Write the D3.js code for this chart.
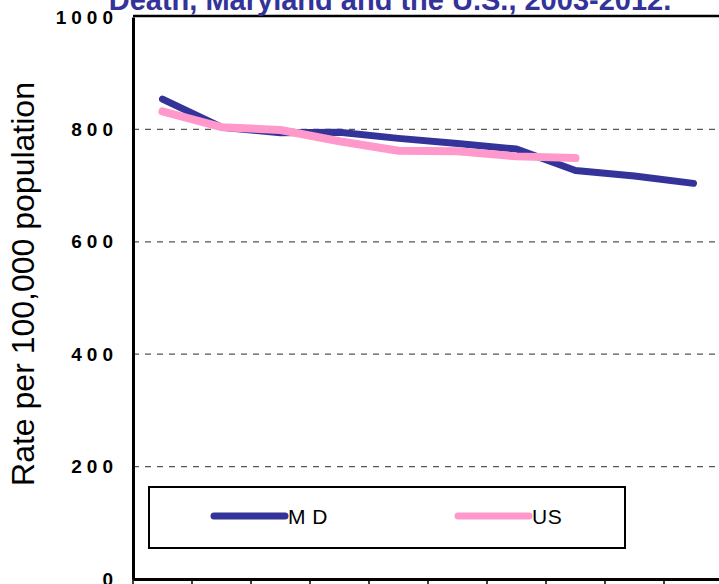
<!DOCTYPE html>
<html>
<head>
<meta charset="utf-8">
<script src="https://cdn.jsdelivr.net/npm/d3@7"></script>
<style>
  body { margin: 0; background: #fff; }
  svg { display: block; font-family: "Liberation Sans", Arial, sans-serif; }
</style>
</head>
<body>
<svg id="chart"></svg>
<script>
const years = ['2003', '2004', '2005', '2006', '2007', '2008', '2009', '2010', '2011', '2012']
const mdValues = [854, 804, 794, 795, 784, 775, 765, 727, 717, 704]
const usValues = [832, 804, 799, 779, 762, 761, 752, 749]
const yTicks = [0, 200, 400, 600, 800, 1000]

const width = 719
const height = 584
const margin = {top: 17, left: 133, bottom: 5}
const plotW = 590

const svg = d3.select('#chart').attr('width', width).attr('height', height)

const x = d3.scaleBand().domain(years).range([margin.left, margin.left + plotW])
const y = d3.scaleLinear().domain([0, 1000]).range([height - margin.bottom, margin.top])

// 网格线
svg.append('g').selectAll('line').data(yTicks.filter(d => d > 0 && d < 1000)).enter().append('line')
    .attr('x1', margin.left).attr('x2', width)
    .attr('y1', d => y(d)).attr('y2', d => y(d))
    .attr('stroke', '#555').attr('stroke-width', 1.2).attr('stroke-dasharray', '6,6')

// 顶部边框
svg.append('line')
    .attr('x1', margin.left).attr('x2', width)
    .attr('y1', y(1000) - 1).attr('y2', y(1000) - 1)
    .attr('stroke', '#000').attr('stroke-width', 2.5)

// y 轴
const ls = 5
const yAxis = svg.append('g').attr('transform', `translate(${margin.left},0)`)
    .call(d3.axisLeft(y).tickValues(yTicks).tickSize(0).tickPadding(20 - ls).tickFormat(d3.format('d')))
yAxis.select('.domain').attr('stroke', '#000').attr('stroke-width', 3)
yAxis.selectAll('text').attr('font-size', 19).attr('font-weight', 'bold')
    .attr('letter-spacing', ls).attr('fill', '#000').attr('font-family', '"Liberation Sans", Arial, sans-serif')

// x 轴
const xAxis = svg.append('g').attr('transform', `translate(0,${y(0)})`)
    .call(d3.axisBottom(x).tickSize(0).tickFormat(''))
xAxis.select('.domain').attr('stroke', '#000').attr('stroke-width', 3)
xAxis.selectAll('.tk').data(years).enter().append('line')
    .attr('x1', d => x(d)).attr('x2', d => x(d))
    .attr('y1', 0).attr('y2', 8)
    .attr('stroke', '#000').attr('stroke-width', 1.5)

// 标题
svg.append('text')
    .attr('x', 390).attr('y', 10)
    .attr('text-anchor', 'middle')
    .attr('font-size', 29).attr('font-weight', 'bold').attr('fill', '#333399')
    .text('Death, Maryland and the U.S., 2003-2012.')

// y 轴标题
svg.append('text')
    .attr('transform', `translate(34,284) rotate(-90)`)
    .attr('text-anchor', 'middle')
    .attr('font-size', 32).attr('fill', '#000')
    .text('Rate per 100,000 population')

// 折线
const line = d3.line().x((d, i) => x(years[i]) + x.bandwidth() / 2).y(d => y(d))
svg.append('path').datum(mdValues).attr('d', line)
    .attr('fill', 'none').attr('stroke', '#333399').attr('stroke-width', 7)
    .attr('stroke-linecap', 'round').attr('stroke-linejoin', 'round')
svg.append('path').datum(usValues).attr('d', line)
    .attr('fill', 'none').attr('stroke', '#ff99cc').attr('stroke-width', 8)
    .attr('stroke-linecap', 'round').attr('stroke-linejoin', 'round')

// 图例
const legend = svg.append('g')
legend.append('rect').attr('x', 149).attr('y', 487).attr('width', 476).attr('height', 61)
    .attr('fill', '#fff').attr('stroke', '#000').attr('stroke-width', 2)
const items = [{name: 'M D', color: '#333399', x: 214, w: 7}, {name: 'US', color: '#ff99cc', x: 458, w: 7}]
const li = legend.selectAll('.li').data(items).enter().append('g')
li.append('line').attr('x1', d => d.x).attr('x2', d => d.x + 71).attr('y1', 516).attr('y2', 516)
    .attr('stroke', d => d.color).attr('stroke-width', d => d.w).attr('stroke-linecap', 'round')
li.append('text').attr('x', d => d.x + 74).attr('y', 524)
    .attr('font-size', 21).attr('letter-spacing', 0.5).attr('fill', '#000').text(d => d.name)
</script>
</body>
</html>
